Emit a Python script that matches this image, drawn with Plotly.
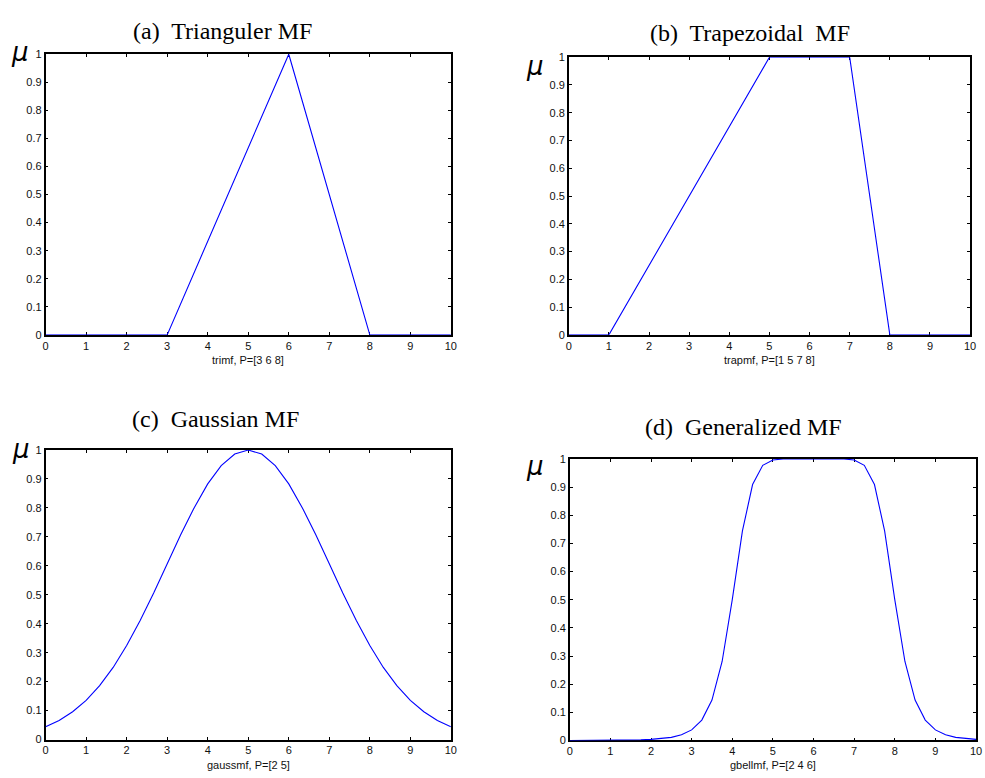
import plotly.graph_objects as go

# ---- data ----
tri_x = [0, 3, 6, 8, 10]
tri_y = [0, 0, 1, 0, 0]

trap_x = [0, 1, 5, 7, 8, 10]
trap_y = [0, 0, 1, 1, 0, 0]

gauss_x = [0, 0.333, 0.667, 1, 1.333, 1.667, 2, 2.333, 2.667, 3, 3.333, 3.667, 4, 4.333, 4.667,
           5, 5.333, 5.667, 6, 6.333, 6.667, 7, 7.333, 7.667, 8, 8.333, 8.667, 9, 9.333, 9.667, 10]
gauss_y = [0.044, 0.066, 0.096, 0.135, 0.186, 0.249, 0.325, 0.411, 0.506, 0.607, 0.707, 0.801, 0.883, 0.946, 0.986,
           1.0, 0.986, 0.946, 0.883, 0.801, 0.707, 0.607, 0.506, 0.411, 0.325, 0.249, 0.186, 0.135, 0.096, 0.066, 0.044]

bell_x = [0, 0.25, 0.5, 0.75, 1, 1.25, 1.5, 1.75, 2, 2.25, 2.5, 2.75, 3, 3.25, 3.5, 3.75, 4, 4.25, 4.5, 4.75,
          5, 5.25, 5.5, 5.75, 6, 6.25, 6.5, 6.75, 7, 7.25, 7.5, 7.75, 8, 8.25, 8.5, 8.75, 9, 9.25, 9.5, 9.75, 10]
bell_y = [0.0002, 0.0002, 0.0003, 0.0004, 0.0007, 0.001, 0.0015, 0.0024, 0.0039, 0.0065, 0.0112, 0.0202, 0.0376,
          0.0726, 0.1437, 0.2805, 0.5, 0.7443, 0.909, 0.9773, 0.9961, 0.9996, 1.0, 1.0, 1.0, 1.0, 1.0, 0.9996,
          0.9961, 0.9773, 0.909, 0.7443, 0.5, 0.2805, 0.1437, 0.0726, 0.0376, 0.0202, 0.0112, 0.0065, 0.0039]

titles = ["(a)  Trianguler MF", "(b)  Trapezoidal  MF", "(c)  Gaussian MF", "(d)  Generalized MF"]
xlabels = ["trimf, P=[3 6 8]", "trapmf, P=[1 5 7 8]", "gaussmf, P=[2 5]", "gbellmf, P=[2 4 6]"]
x_ticks = [0, 1, 2, 3, 4, 5, 6, 7, 8, 9, 10]
y_ticks = [0, 0.1, 0.2, 0.3, 0.4, 0.5, 0.6, 0.7, 0.8, 0.9, 1]
y_ticktext = ["0", "0.1", "0.2", "0.3", "0.4", "0.5", "0.6", "0.7", "0.8", "0.9", "1"]

W, H = 985, 778

# panel pixel boxes: left, right, top, bottom
boxes = [(43, 452, 49, 334), (571, 976, 52, 334), (43, 452, 451, 745), (572, 982, 460, 746)]
title_pos = [(222, 25), (754, 27), (214, 419), (747, 428)]
mu_pos = [(17, 47), (537, 61), (18, 450), (537, 467)]

series = [(tri_x, tri_y), (trap_x, trap_y), (gauss_x, gauss_y), (bell_x, bell_y)]

fig = go.Figure()
annotations = []
for i, ((xs, ys), (l, r, t, b)) in enumerate(zip(series, boxes)):
    sfx = "" if i == 0 else str(i + 1)
    fig.add_trace(go.Scatter(x=xs, y=ys, mode="lines", line=dict(color="#0000FF", width=1.1),
                             xaxis="x" + sfx, yaxis="y" + sfx, showlegend=False))
    axcommon = dict(showgrid=False, zeroline=False, showline=True, linecolor="black", linewidth=1.5,
                    mirror="ticks", ticks="inside", ticklen=3, tickwidth=1, tickcolor="black",
                    tickfont=dict(family="Arial, Liberation Sans", size=11, color="#111"),
                    layer="below traces", fixedrange=True)
    fig.layout["xaxis" + sfx] = dict(domain=[l / W, r / W], anchor="y" + sfx, range=[0, 10],
                                     tickvals=x_ticks, **axcommon)
    fig.layout["yaxis" + sfx] = dict(domain=[1 - b / H, 1 - t / H], anchor="x" + sfx, range=[0, 1],
                                     tickvals=y_ticks, ticktext=y_ticktext, **axcommon)
    tx, ty = title_pos[i]
    annotations.append(dict(text=titles[i], x=tx / W, y=1 - ty / H, xref="paper", yref="paper",
                            xanchor="center", yanchor="middle", showarrow=False,
                            font=dict(family="Liberation Serif, Times New Roman", size=24, color="black")))
    mx, my = mu_pos[i]
    annotations.append(dict(text="<i>μ</i>", x=mx / W, y=1 - my / H, xref="paper", yref="paper",
                            xanchor="center", yanchor="middle", showarrow=False,
                            font=dict(family="DejaVu Sans, Arial", size=26, color="black")))
    annotations.append(dict(text=xlabels[i], x=0.5, y=0, xref="x" + sfx + " domain", yref="y" + sfx + " domain",
                            xanchor="center", yanchor="middle", yshift=-25, showarrow=False,
                            font=dict(family="Arial, Liberation Sans", size=11, color="#111")))

fig.update_layout(width=W, height=H, margin=dict(l=0, r=0, t=0, b=0),
                  paper_bgcolor="white", plot_bgcolor="white", annotations=annotations)
fig.write_html("out.html")
